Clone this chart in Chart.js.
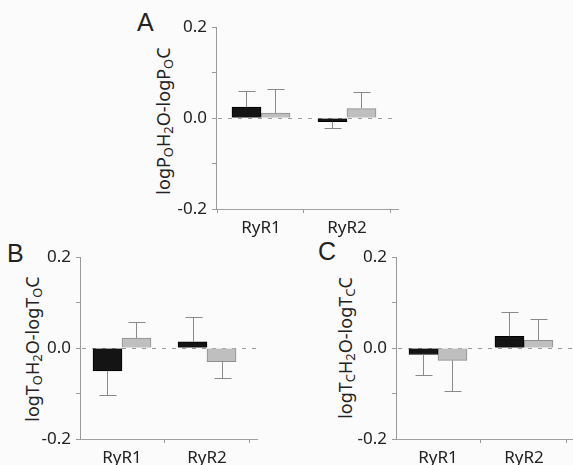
<!DOCTYPE html>
<html>
<head>
<meta charset="utf-8">
<script src="https://cdn.jsdelivr.net/npm/chart.js@4.4.1/dist/chart.umd.min.js"></script>
<style>
  html, body { margin: 0; padding: 0; }
  body {
    width: 573px; height: 465px; position: relative; overflow: hidden;
    background: #fbfbfb; color: #222; font-family: "Noto Sans", sans-serif;
  }
  canvas { position: absolute; }
  .letter {
    position: absolute; font-family: "Liberation Sans", Arial, sans-serif;
    font-size: 25px; line-height: 25px;
  }
  .ytitle {
    position: absolute; font-size: 18px; line-height: 1; white-space: nowrap;
    transform: translate(-50%, -50%) rotate(-90deg);
  }
  .ytitle sub { font-size: 0.72em; vertical-align: -0.25em; line-height: 0; }
</style>
</head>
<body>
<div class="letter" style="left:137px;top:10px">A</div>
<div class="letter" style="left:7px;top:241px">B</div>
<div class="letter" style="left:318px;top:239px">C</div>

<div class="ytitle" style="left:163px;top:121px">logP<sub>O</sub>H<sub>2</sub>O-logP<sub>O</sub>C</div>
<div class="ytitle" style="left:32px;top:349px">logT<sub>O</sub>H<sub>2</sub>O-logT<sub>O</sub>C</div>
<div class="ytitle" style="left:345px;top:348px">logT<sub>C</sub>H<sub>2</sub>O-logT<sub>C</sub>C</div>

<canvas id="chartA" width="236" height="227" style="left:166px;top:12px"></canvas>
<canvas id="chartB" width="231" height="227" style="left:30px;top:242px"></canvas>
<canvas id="chartC" width="227" height="227" style="left:346px;top:242px"></canvas>

<script>
const categories = ["RyR1", "RyR2"];
const yTicks = [-0.2, -0.1, 0.0, 0.1, 0.2];
const yTickLabels = ["-0.2", "", "0.0", "", "0.2"];

// A: open probability
const aBlack = [0.024, -0.008];
const aBlackErr = [0.035, 0.014];
const aGray = [0.011, 0.021];
const aGrayErr = [0.054, 0.036];

// B: open time
const bBlack = [-0.050, 0.014];
const bBlackErr = [0.054, 0.054];
const bGray = [0.022, -0.030];
const bGrayErr = [0.036, 0.035];

// C: closed time
const cBlack = [-0.014, 0.026];
const cBlackErr = [0.046, 0.054];
const cGray = [-0.027, 0.017];
const cGrayErr = [0.068, 0.046];

// dashed line at zero, under the bars
const zeroLine = {
  id: "zeroLine",
  beforeDatasetsDraw(chart) {
    const { ctx, chartArea, scales } = chart;
    const y = Math.round(scales.y.getPixelForValue(0)) + 0.5;
    ctx.save();
    ctx.strokeStyle = "#9a9a9a";
    ctx.lineWidth = 1;
    ctx.setLineDash([4, 6]);
    ctx.beginPath();
    ctx.moveTo(chartArea.left + 2, y);
    ctx.lineTo(chartArea.right, y);
    ctx.stroke();
    ctx.restore();
  }
};

// one-sided error bars, pointing away from zero
const errorBars = {
  id: "errorBars",
  afterDatasetsDraw(chart) {
    const { ctx, scales } = chart;
    ctx.save();
    ctx.strokeStyle = "#8a8a8a";
    ctx.lineWidth = 1;
    chart.data.datasets.forEach((ds, i) => {
      chart.getDatasetMeta(i).data.forEach((bar, j) => {
        const v = ds.data[j].y;
        const e = ds.errors[j];
        const end = Math.round(scales.y.getPixelForValue(v < 0 ? v - e : v + e)) + 0.5;
        const x = Math.round(bar.x) + 0.5;
        ctx.beginPath();
        ctx.moveTo(x, bar.y);
        ctx.lineTo(x, end);
        ctx.moveTo(x - 8, end);
        ctx.lineTo(x + 9, end);
        ctx.stroke();
      });
    });
    ctx.restore();
  }
};

const toPoints = (vals) => vals.map((v, i) => ({ x: i + 1, y: v }));

function makeChart(id, xMin, xMax, padRight, black, blackErr, gray, grayErr) {
  const ctx = document.getElementById(id).getContext("2d");
  return new Chart(ctx, {
    type: "bar",
    data: {
      datasets: [
        {
          data: toPoints(black),
          errors: blackErr,
          backgroundColor: "#141414",
          borderColor: "#000",
          borderWidth: 1,
          barThickness: 29,
        },
        {
          data: toPoints(gray),
          errors: grayErr,
          backgroundColor: "#bfbfbf",
          borderColor: "#8e8e8e",
          borderWidth: 1,
          barThickness: 29,
        },
      ],
    },
    options: {
      responsive: false,
      animation: false,
      layout: { padding: { top: 12, right: padRight, left: 0, bottom: 0 } },
      plugins: { legend: { display: false }, tooltip: { enabled: false } },
      scales: {
        x: {
          type: "linear",
          min: xMin,
          max: xMax,
          offset: false,
          afterFit: (s) => { s.height = 30; },
          afterBuildTicks: (s) => { s.ticks = categories.map((c, i) => ({ value: i + 1 })); },
          ticks: {
            callback: (v) => categories[v - 1],
            font: { family: "Noto Sans", size: 17 },
            color: "#222",
            padding: 5,
            autoSkip: false,
            maxRotation: 0,
          },
          grid: { drawOnChartArea: false, tickLength: 4, color: "#999" },
          border: { color: "#a0a0a0" },
        },
        y: {
          min: -0.2,
          max: 0.2,
          afterFit: (s) => { s.width = 50; },
          afterBuildTicks: (s) => { s.ticks = yTicks.map((v) => ({ value: v })); },
          ticks: {
            callback: (v, i) => yTickLabels[i],
            font: { family: "Noto Sans", size: 17 },
            color: "#222",
            padding: 5,
          },
          grid: { drawOnChartArea: false, tickLength: 4, color: "#999" },
          border: { color: "#999" },
        },
      },
    },
    plugins: [zeroLine, errorBars],
  });
}

makeChart("chartA", 0.477, 2.593, 4, aBlack, aBlackErr, aGray, aGrayErr);
makeChart("chartB", 0.506, 2.588, 4, bBlack, bBlackErr, bGray, bGrayErr);
makeChart("chartC", 0.512, 2.57, 0, cBlack, cBlackErr, cGray, cGrayErr);
</script>
</body>
</html>
